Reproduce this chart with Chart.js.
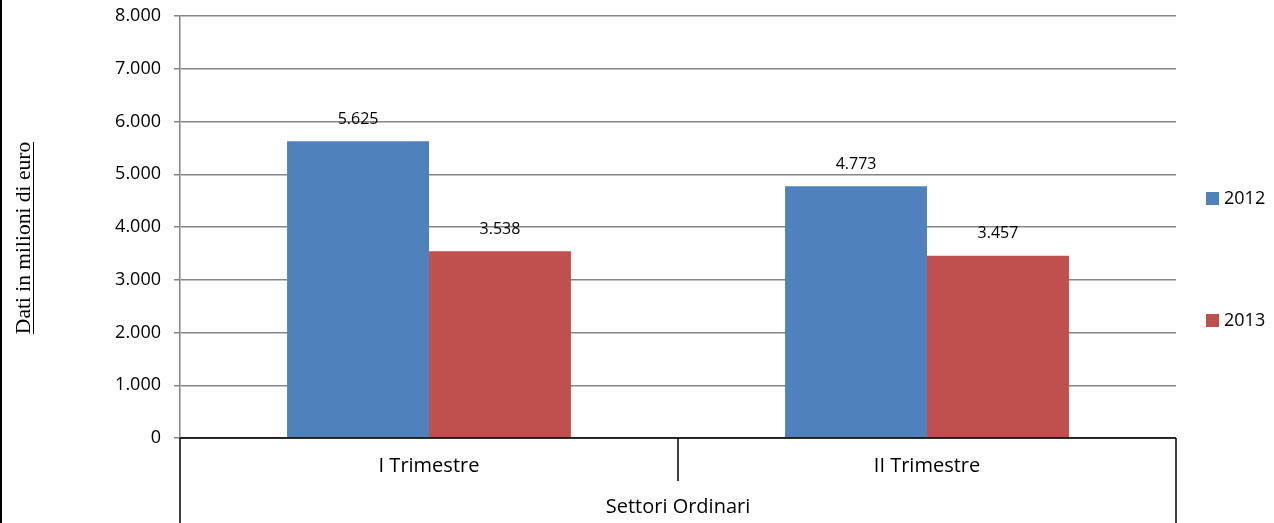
<!DOCTYPE html>
<html>
<head>
<meta charset="utf-8">
<script src="https://cdn.jsdelivr.net/npm/chart.js@4/dist/chart.umd.min.js"></script>
<style>
  html, body { margin: 0; padding: 0; background: #fff; }
  #wrap { width: 1274px; height: 523px; position: relative; }
</style>
</head>
<body>
<div id="wrap"><canvas id="chart"></canvas></div>
<script>
// data
const categories = ['I Trimestre', 'II Trimestre'];
const groupLabel = 'Settori Ordinari';
const seriesNames = ['2012', '2013'];
const values2012 = [5625, 4773];
const values2013 = [3538, 3457];
const seriesColors = ['#4F81BD', '#C0504D'];
const yTitle = 'Dati in milioni di euro';

const FONT = '"Open Sans", "Noto Sans", sans-serif';

function fmt(n) {
  return String(n).replace(/\B(?=(\d{3})+(?!\d))/g, '.');
}

// axis frame, labels, legend, value labels
const decorations = {
  id: 'decorations',
  afterDraw(chart) {
    const ctx = chart.ctx;
    const area = chart.chartArea;
    const x = chart.scales.x;
    const H = chart.height;
    ctx.save();

    // left border of the picture
    ctx.strokeStyle = '#000';
    ctx.lineWidth = 2;
    ctx.beginPath();
    ctx.moveTo(1, 0);
    ctx.lineTo(1, H);
    ctx.stroke();

    // category axis line and group separators
    ctx.lineWidth = 1.5;
    ctx.beginPath();
    ctx.moveTo(area.left, area.bottom);
    ctx.lineTo(area.right, area.bottom);
    ctx.moveTo(area.left, area.bottom);
    ctx.lineTo(area.left, H);
    ctx.moveTo(area.right, area.bottom);
    ctx.lineTo(area.right, H);
    for (let i = 1; i < categories.length; i++) {
      const mid = (x.getPixelForValue(i - 1) + x.getPixelForValue(i)) / 2;
      ctx.moveTo(mid, area.bottom);
      ctx.lineTo(mid, area.bottom + 43);
    }
    ctx.stroke();

    // category labels + group label
    ctx.fillStyle = '#000';
    ctx.font = '20px ' + FONT;
    ctx.textAlign = 'center';
    ctx.textBaseline = 'middle';
    categories.forEach((c, i) => {
      ctx.fillText(c, x.getPixelForValue(i), area.bottom + 28);
    });
    ctx.fillText(groupLabel, (area.left + area.right) / 2, area.bottom + 69);

    // value labels above bars
    ctx.font = '16px ' + FONT;
    chart.data.datasets.forEach((ds, di) => {
      chart.getDatasetMeta(di).data.forEach((bar, i) => {
        ctx.fillText(fmt(ds.data[i]), bar.x, bar.y - 22);
      });
    });

    // legend on the right
    const legendY = [198, 320];
    ctx.font = '18px ' + FONT;
    ctx.textAlign = 'left';
    chart.data.datasets.forEach((ds, di) => {
      ctx.fillStyle = ds.backgroundColor;
      ctx.fillRect(1206, legendY[di] - 6, 13, 13);
      ctx.fillStyle = '#000';
      ctx.fillText(ds.label, 1224, legendY[di] + 1);
    });

    // rotated, underlined y title (serif)
    ctx.translate(25, 238);
    ctx.rotate(-Math.PI / 2);
    ctx.font = '21.5px "Liberation Serif", "DejaVu Serif", serif';
    ctx.textAlign = 'center';
    ctx.textBaseline = 'alphabetic';
    ctx.fillText(yTitle, 0, 5);
    const w = ctx.measureText(yTitle).width;
    ctx.lineWidth = 1;
    ctx.beginPath();
    ctx.moveTo(-w / 2, 8.5);
    ctx.lineTo(w / 2, 8.5);
    ctx.stroke();

    ctx.restore();
  }
};

new Chart(document.getElementById('chart'), {
  type: 'bar',
  data: {
    labels: categories,
    datasets: [
      { label: seriesNames[0], data: values2012, backgroundColor: seriesColors[0] },
      { label: seriesNames[1], data: values2013, backgroundColor: seriesColors[1] }
    ]
  },
  options: {
    responsive: true,
    maintainAspectRatio: false,
    animation: false,
    layout: { padding: { left: 0, right: 98, top: 16, bottom: 0 } },
    datasets: {
      bar: { categoryPercentage: 0.57, barPercentage: 1 }
    },
    plugins: {
      legend: { display: false },
      tooltip: { enabled: false }
    },
    scales: {
      x: {
        grid: { display: false },
        border: { display: false },
        ticks: { display: false },
        afterFit(scale) { scale.height = 85; }
      },
      y: {
        min: 0,
        max: 8000,
        ticks: {
          stepSize: 1000,
          padding: 13,
          color: '#000',
          font: { family: FONT, size: 18 },
          callback: v => fmt(v)
        },
        grid: { color: '#868686', lineWidth: 1.5, tickLength: 6 },
        border: { color: '#868686', width: 1.5 },
        afterFit(scale) {
          scale.width = 180;
          scale.paddingTop = 0;
          scale.paddingBottom = 0;
        }
      }
    }
  },
  plugins: [decorations]
});
</script>
</body>
</html>
